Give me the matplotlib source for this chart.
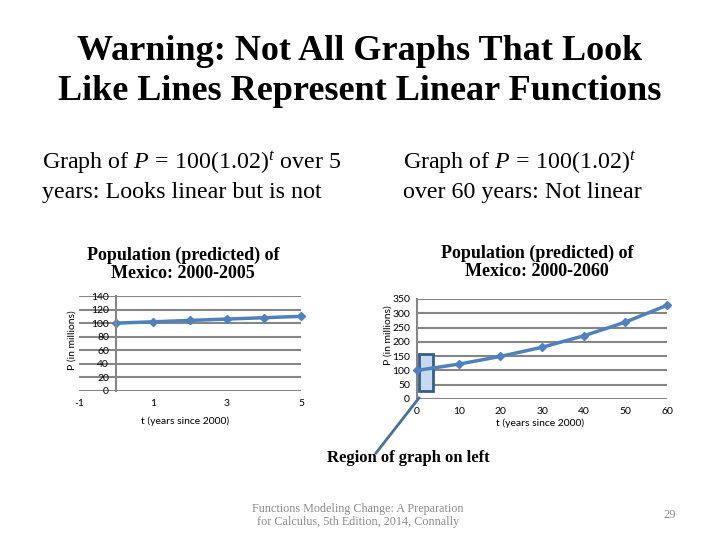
import numpy as np
import matplotlib
matplotlib.use("Agg")
import matplotlib.pyplot as plt
from matplotlib.patches import Rectangle
from matplotlib.lines import Line2D

# data
t_short = [0, 1, 2, 3, 4, 5]
p_short = [100, 102, 104, 106, 108, 110]
t_long = [0, 10, 20, 30, 40, 50, 60]
p_long = [100, 122, 149, 181, 221, 269, 328]

short_xticks = [-1, 1, 3, 5]
short_yticks = [0, 20, 40, 60, 80, 100, 120, 140]
long_xticks = [0, 10, 20, 30, 40, 50, 60]
long_yticks = [0, 50, 100, 150, 200, 250, 300, 350]

plt.rcParams['mathtext.fontset'] = 'custom'
plt.rcParams['mathtext.rm'] = 'Liberation Serif'
plt.rcParams['mathtext.it'] = 'Liberation Serif:italic'
plt.rcParams['axes.unicode_minus'] = False

SERIF = 'Liberation Serif'
SANS = 'Lato'
BLUE = '#4f81bd'
GRID = '#868686'
FOOT = '#8c8c8c'


def fy(py):
    return 1 - py / 540


fig = plt.figure(figsize=(7.2, 5.4), dpi=100)

fig.text(0.5, fy(51), "Warning: Not All Graphs That Look", family=SERIF,
         fontsize=26, weight='bold', ha='center', va='center')
fig.text(0.5, fy(92), "Like Lines Represent Linear Functions", family=SERIF,
         fontsize=26, weight='bold', ha='center', va='center')

fig.text(42 / 720, fy(163), r"Graph of $P$ = 100$(1.02)^{t}$ over 5", family=SERIF,
         fontsize=17.3, ha='left', va='center')
fig.text(42 / 720, fy(192), "years: Looks linear but is not", family=SERIF,
         fontsize=17.3, ha='left', va='center')
fig.text(403 / 720, fy(163), r"Graph of $P$ = 100$(1.02)^{t}$", family=SERIF,
         fontsize=17.3, ha='left', va='center')
fig.text(403 / 720, fy(192), "over 60 years: Not linear", family=SERIF,
         fontsize=17.3, ha='left', va='center')


def style_axes(ax):
    for s in ['top', 'right', 'bottom']:
        ax.spines[s].set_visible(False)
    ax.spines['left'].set_position(('data', 0))
    ax.spines['left'].set_color(GRID)
    ax.spines['left'].set_linewidth(1.5)
    ax.grid(axis='y', color=GRID, linewidth=1.5)
    ax.set_axisbelow(True)
    ax.tick_params(length=0, labelsize=7.5, pad=5)
    for lab in ax.get_xticklabels() + ax.get_yticklabels():
        lab.set_family(SANS)


# left chart: 5 years
ax1 = fig.add_axes([79 / 720, fy(391), 222 / 720, 95 / 540])
ax1.plot(t_short, p_short, color=BLUE, lw=2.5, marker='D', ms=4.5, clip_on=False)
ax1.set_xlim(-1, 5)
ax1.set_ylim(0, 140)
ax1.set_xticks(short_xticks)
ax1.set_yticks(short_yticks)
style_axes(ax1)
ax1.tick_params(axis='x', pad=6)
fig.text(183 / 720, fy(255), "Population (predicted) of", family=SERIF,
         weight='bold', fontsize=13, ha='center', va='center')
fig.text(183 / 720, fy(273), "Mexico: 2000-2005", family=SERIF,
         weight='bold', fontsize=13, ha='center', va='center')
fig.text(185 / 720, fy(421), "t (years since 2000)", family=SANS, fontsize=7.5,
         ha='center', va='center')
fig.text(72 / 720, fy(340), "P (in millions)", family=SANS, fontsize=7.5,
         rotation=90, ha='center', va='center')

# right chart: 60 years
ax2 = fig.add_axes([417 / 720, fy(399), 250 / 720, 100 / 540])
ax2.plot(t_long, p_long, color=BLUE, lw=2.5, marker='D', ms=4.5, clip_on=False, zorder=3)
ax2.set_xlim(0, 60)
ax2.set_ylim(0, 350)
ax2.set_xticks(long_xticks)
ax2.set_yticks(long_yticks)
style_axes(ax2)
ax2.tick_params(axis='x', pad=6)
fig.text(537 / 720, fy(253), "Population (predicted) of", family=SERIF,
         weight='bold', fontsize=13, ha='center', va='center')
fig.text(537 / 720, fy(272), "Mexico: 2000-2060", family=SERIF,
         weight='bold', fontsize=13, ha='center', va='center')
fig.text(540 / 720, fy(423), "t (years since 2000)", family=SANS, fontsize=7.5,
         ha='center', va='center')
fig.text(388 / 720, fy(335), "P (in millions)", family=SANS, fontsize=7.5,
         rotation=90, ha='center', va='center')

# highlight box for the region shown on the left
ax2.add_patch(Rectangle((0.5, 28), 3.4, 130, facecolor='#c6d9f1', edgecolor='#385d8a',
                        lw=2, zorder=2))
fig.add_artist(Line2D([419 / 720, 376 / 720], [fy(398), fy(453)],
                      color='#4a6f9a', lw=2))

fig.text(408 / 720, fy(458), "Region of graph on left", family=SERIF,
         fontsize=12, weight='bold', ha='center', va='center')

fig.text(358 / 720, fy(509), "Functions Modeling Change: A Preparation", family=SERIF,
         fontsize=8.7, color=FOOT, ha='center', va='center')
fig.text(358 / 720, fy(522), "for Calculus, 5th Edition, 2014, Connally", family=SERIF,
         fontsize=8.7, color=FOOT, ha='center', va='center')
fig.text(670 / 720, fy(515), "29", family=SERIF, fontsize=9, color=FOOT,
         ha='center', va='center')

fig.savefig("out.png", dpi=100)
